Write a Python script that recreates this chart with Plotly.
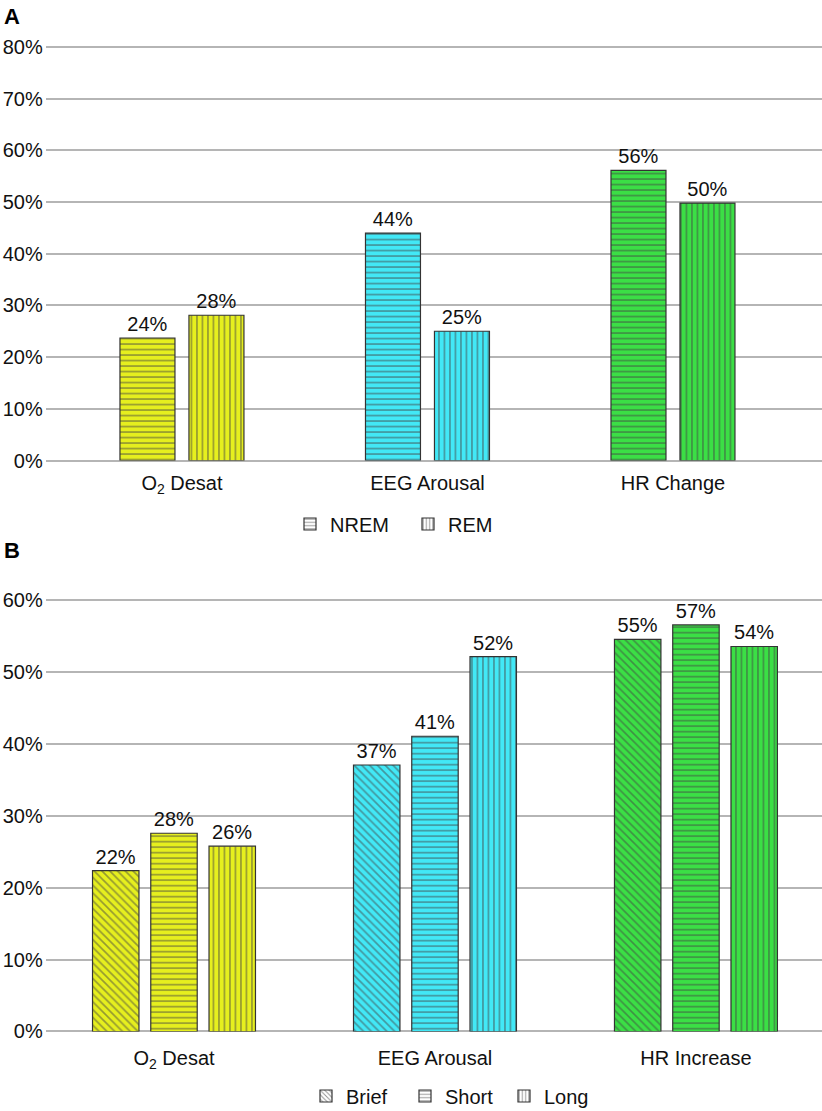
import plotly.graph_objects as go

# ---------------- data ----------------
cats_a = ["O<sub>2</sub> Desat", "EEG Arousal", "HR Change"]
nrem = [23.7, 44.0, 56.1]
rem = [28.1, 25.0, 49.8]

cats_b = ["O<sub>2</sub> Desat", "EEG Arousal", "HR Increase"]
brief = [22.4, 37.1, 54.6]
short = [27.6, 41.1, 56.6]
long_ = [25.8, 52.2, 53.6]

colors = ["#e6ef1e", "#42e8f6", "#3bdf45"]

# ---------------- style ----------------
W, H = 822, 1111
FONT = "Liberation Sans, Arial, Helvetica, sans-serif"
GRID = "#b5b5b5"
PAT_FG = "#1e1e1e"
LINE = "#333333"

def px_x(p):
    return p / W

def px_y(p):
    return 1 - p / H

fig = go.Figure()

def add_group(series_list, names, shapes, cats, xa, ya, legend, width, slot):
    n = len(series_list)
    for i, (vals, name, shp) in enumerate(zip(series_list, names, shapes)):
        off = (i - (n - 1) / 2) * slot - width / 2
        fig.add_trace(go.Bar(
            x=cats, y=vals, name=name, xaxis=xa, yaxis=ya,
            width=width, offset=off,
            marker=dict(color=colors,
                        line=dict(color=LINE, width=1.2),
                        pattern=dict(shape=shp, fgcolor=PAT_FG, size=5.5,
                                     solidity=0.3)),
            texttemplate="%{y:.0f}%", textposition="outside",
            textfont=dict(size=20, color="#111", family=FONT),
            constraintext="none", cliponaxis=False,
            showlegend=False, hoverinfo="skip",
        ))
        # legend key (white, patterned)
        fig.add_trace(go.Bar(
            x=[cats[0]], y=[None], name=name, xaxis=xa, yaxis=ya,
            legend=legend,
            marker=dict(color="white", line=dict(color=LINE, width=1.2),
                        pattern=dict(shape=shp, fgcolor=PAT_FG, size=4,
                                     solidity=0.3)),
            showlegend=True, hoverinfo="skip",
        ))

add_group([nrem, rem], ["NREM", "REM"], ["-", "|"], cats_a, "x", "y",
          "legend", width=0.224, slot=0.281)
add_group([brief, short, long_], ["Brief", "Short", "Long"], ["\\", "-", "|"],
          cats_b, "x2", "y2", "legend2", width=0.178, slot=0.2232)

x0 = px_x(45.7)

fig.update_layout(
    width=W, height=H,
    margin=dict(l=0, r=0, t=0, b=0, autoexpand=False),
    paper_bgcolor="white", plot_bgcolor="white",
    barmode="overlay",
    font=dict(family=FONT, size=20, color="#111"),
    xaxis=dict(domain=[x0, 1], range=[-0.555, 2.607], showgrid=False,
               zeroline=False, ticks="", anchor="y", ticklabelstandoff=8,
               tickfont=dict(size=20), automargin=False),
    yaxis=dict(domain=[px_y(460.5), px_y(460.5 - 80.5 * (413.6 / 80))],
               range=[0, 80.5], dtick=10, ticksuffix="%", anchor="x",
               showgrid=True, gridcolor=GRID, gridwidth=1.5,
               zeroline=True, zerolinecolor=GRID, zerolinewidth=1.5,
               ticks="", ticklabelstandoff=2,
               tickfont=dict(size=20), automargin=False),
    xaxis2=dict(domain=[x0, 1], range=[-0.4916, 2.483], showgrid=False,
                zeroline=False, ticks="", anchor="y2", ticklabelstandoff=12,
                tickfont=dict(size=20), automargin=False),
    yaxis2=dict(domain=[px_y(1031.5), px_y(1031.5 - 60.5 * (431 / 60))],
                range=[0, 60.5], dtick=10, ticksuffix="%", anchor="x2",
                showgrid=True, gridcolor=GRID, gridwidth=1.5,
                zeroline=True, zerolinecolor=GRID, zerolinewidth=1.5,
                ticks="", ticklabelstandoff=2,
                tickfont=dict(size=20), automargin=False),
    legend=dict(orientation="h", x=px_x(290), y=px_y(524),
                xanchor="left", yanchor="middle", entrywidth=73,
                font=dict(size=20), bgcolor="rgba(0,0,0,0)"),
    legend2=dict(orientation="h", x=px_x(306), y=px_y(1096),
                 xanchor="left", yanchor="middle", entrywidth=54,
                 font=dict(size=20), bgcolor="rgba(0,0,0,0)"),
    hovermode=False,
    annotations=[
        dict(text="<b>A</b>", x=px_x(2), y=px_y(17), xref="paper", yref="paper",
             xanchor="left", yanchor="middle", showarrow=False,
             font=dict(size=22, family=FONT, color="#000")),
        dict(text="<b>B</b>", x=px_x(2), y=px_y(550), xref="paper", yref="paper",
             xanchor="left", yanchor="middle", showarrow=False,
             font=dict(size=22, family=FONT, color="#000")),
    ],
)

fig.write_html(
    "out.html",
    config={"displayModeBar": False},
    post_script=(
        "document.documentElement.style.margin='0';"
        "document.documentElement.style.overflow='hidden';"
        "document.body.style.margin='0';"
        "document.body.style.padding='0';"
        "document.body.style.overflow='hidden';"
    ),
)
